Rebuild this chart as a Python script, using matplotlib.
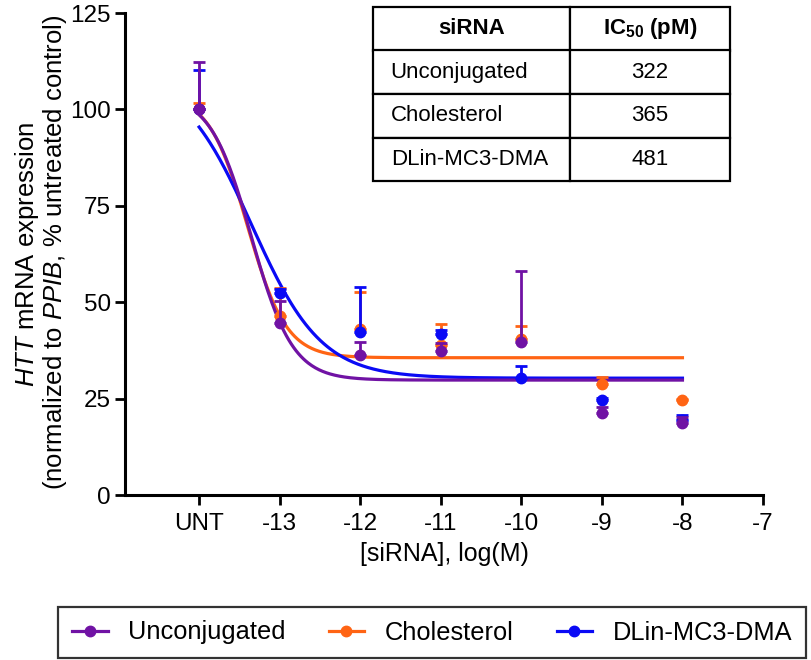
import numpy as np
import matplotlib
matplotlib.use("Agg")
import matplotlib.pyplot as plt
from matplotlib.lines import Line2D

plt.rcParams['font.family'] = ['Liberation Sans', 'DejaVu Sans']
plt.rcParams['mathtext.fontset'] = 'custom'
plt.rcParams['mathtext.rm'] = 'Liberation Sans'
plt.rcParams['mathtext.it'] = 'Liberation Sans:italic'
plt.rcParams['mathtext.bf'] = 'Liberation Sans:bold'

# ---- data ----
conc_log = [-14, -13, -12, -11, -10, -9, -8]          # UNT placed at -14
tick_pos = [-14, -13, -12, -11, -10, -9, -8, -7]
tick_labels = ['UNT', '-13', '-12', '-11', '-10', '-9', '-8', '-7']

series_names = ['Unconjugated', 'Cholesterol', 'DLin-MC3-DMA']
series_colors = ['#7012A4', '#FF6414', '#0A0AF5']

unconj_mean = [100.0, 44.5, 36.3, 37.4, 39.6, 21.3, 18.8]
unconj_err = [12.4, 5.9, 3.5, 2.1, 18.6, 1.4, 1.5]
chol_mean = [100.0, 46.4, 43.0, 39.0, 40.4, 28.7, 24.6]
chol_err = [1.6, 7.4, 9.6, 5.3, 3.4, 1.8, 0.3]
dlin_mean = [100.0, 52.3, 42.4, 41.7, 30.4, 24.6, 19.5]
dlin_err = [10.2, 1.0, 11.5, 1.0, 3.1, 0.5, 1.2]

# fitted 4PL curve parameters: top, bottom, logIC50, hill
fit_top = [104.0, 104.0, 110.0]
fit_bottom = [29.8, 35.6, 30.3]
fit_logic50 = [-13.35, -13.40, -13.35]
fit_hill = [1.7, 1.8, 1.0]

table_header = ['siRNA', r'$\mathbf{IC_{50}}$ (pM)']
table_names = ['Unconjugated', 'Cholesterol', 'DLin-MC3-DMA']
table_ic50 = ['322', '365', '481']

means = [unconj_mean, chol_mean, dlin_mean]
errs = [unconj_err, chol_err, dlin_err]

# ---- figure ----
fig = plt.figure(figsize=(8.12, 6.6), dpi=100)
L, R, B, T = 125, 763, 495, 13
ax = fig.add_axes([L/812, 1-B/660, (R-L)/812, (B-T)/660])

xs = np.linspace(-14, -8, 400)
order = [1, 2, 0]   # orange, blue, purple (purple on top)
for k, i in enumerate(order):
    c = series_colors[i]
    y = fit_bottom[i] + (fit_top[i]-fit_bottom[i])/(1+10**((xs-fit_logic50[i])*fit_hill[i]))
    ax.plot(xs, y, color=c, lw=2.3, zorder=2+k*0.1)
for k, i in enumerate(order):
    c = series_colors[i]
    m = np.array(means[i]); e = np.array(errs[i])
    ax.errorbar(conc_log, m, yerr=[np.zeros_like(e), e], fmt='o', color=c,
                ms=7.5, elinewidth=2.0, capsize=4, capthick=2.0, zorder=3+k*0.1)

ax.set_xlim(-14.92, -7)
ax.set_ylim(0, 125)
ax.set_xticks(tick_pos)
ax.set_xticklabels(tick_labels)
ax.set_yticks([0, 25, 50, 75, 100, 125])
for s in ['top', 'right']:
    ax.spines[s].set_visible(False)
for s in ['left', 'bottom']:
    ax.spines[s].set_linewidth(2.2)
ax.tick_params(axis='both', which='major', length=7, width=2.0, labelsize=17.5, direction='out')
ax.tick_params(axis='x', pad=6)
ax.tick_params(axis='y', pad=3)

ax.set_xlabel('[siRNA], log(M)', fontsize=18, labelpad=5)

fig.text(27/812, 1-254/660, r'$\mathit{HTT}$ mRNA expression', rotation=90,
         ha='center', va='center', fontsize=18.5)
fig.text(55/812, 1-252/660, r'(normalized to $\mathit{PPIB}$, % untreated control)', rotation=90,
         ha='center', va='center', fontsize=18.5)

# ---- table ----
tl, tr, tt, tb = 373, 730, 7, 181
tbl = ax.table(cellText=[[n, v] for n, v in zip(table_names, table_ic50)],
               colLabels=table_header,
               colWidths=[197/357, 160/357],
               bbox=[(tl-L)/(R-L), (B-tb)/(B-T), (tr-tl)/(R-L), (tb-tt)/(B-T)],
               zorder=5)
tbl.auto_set_font_size(False)
for (r, cidx), cell in tbl.get_celld().items():
    cell.set_linewidth(1.6)
    cell.set_edgecolor('black')
    cell.set_facecolor('white')
    txt = cell.get_text()
    txt.set_fontsize(16)
    if r == 0:
        txt.set_fontweight('bold')
        cell.set_text_props(ha='center')
    elif cidx == 0:
        cell.set_text_props(ha='left')
        cell.PAD = 0.09
    else:
        cell.set_text_props(ha='center')

# ---- legend ----
handles = [Line2D([0], [0], color=series_colors[i], lw=2.3, marker='o', ms=7.5)
           for i in range(3)]
leg = fig.legend(handles, series_names, loc='center', ncol=3,
                 bbox_to_anchor=(432/812, 1-632.5/660), fontsize=18.3,
                 frameon=True, fancybox=False, edgecolor='black',
                 handlelength=1.4, columnspacing=1.7, borderpad=0.55, handletextpad=0.8)
leg.get_frame().set_linewidth(1.6)

fig.savefig('out.png', dpi=100)
